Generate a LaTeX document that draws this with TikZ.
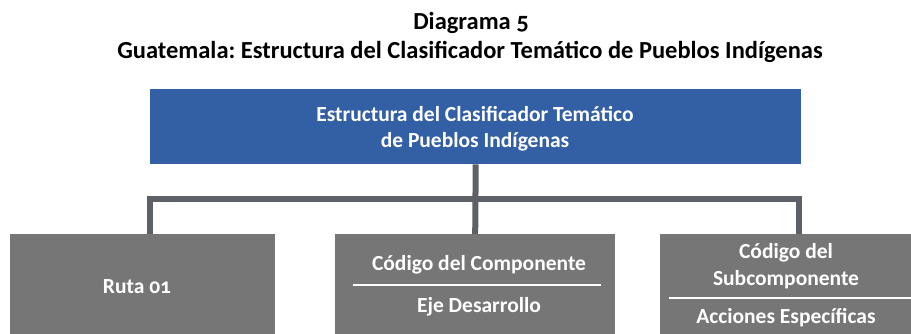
\documentclass[tikz,border=0pt]{standalone}
\usepackage{fontspec}
\setmainfont{Carlito}[Numbers=OldStyle]
\usetikzlibrary{calc}
\usetikzlibrary{positioning}
\frenchspacing
\definecolor{DarkBlue}{HTML}{335FA5}
\definecolor{BoxGray}{HTML}{767677}
\definecolor{LineGray}{HTML}{5D6066}
\tikzset{
  headbox/.style={fill=DarkBlue, anchor=north west, inner sep=0pt},
  itembox/.style={fill=BoxGray, anchor=north west, inner sep=0pt},
  boxtext/.style={text=white, font=\bfseries\fontsize{21.5}{26.5}\selectfont, align=center, inner sep=0pt},
  titletext/.style={font=\bfseries\fontsize{24.5}{29}\selectfont, inner sep=0pt},
  conn/.style={LineGray, line width=6pt},
  sepline/.style={white, line width=2pt}
}

\begin{document}
\begin{tikzpicture}[x=1pt, y=-1pt]
  \useasboundingbox (0,0) rectangle (911,334);

  % titulo
  \node[titletext] (tituno) at (471,23) {Diagrama 5};
  \node[titletext] (titdos) at (470,52) {Guatemala: Estructura del Clasificador Temático de Pueblos Indígenas};

  % cajas
  \node[headbox, minimum width=651pt, minimum height=75pt] (clasif) at (150,89) {};
  \node[itembox, minimum width=265pt, minimum height=100pt] (ruta) at (10,234) {};
  \node[itembox, minimum width=280pt, minimum height=100pt] (codcomp) at (335,234) {};
  \node[itembox, minimum width=251pt, minimum height=100pt] (codsub) at (660,234) {};

  % conectores
  \coordinate (barL) at (150,199);
  \coordinate (barR) at (799,199);
  \draw[conn] (clasif.south) -- (codcomp.north);
  \draw[conn] ($(barL)+(-3,0)$) -- ($(barR)+(3,0)$);
  \draw[conn] (barL) -- (barL |- ruta.north);
  \draw[conn] (barR) -- (barR |- codsub.north);

  % textos
  \node[boxtext] (clasiftxt) at (475,129) {Estructura del Clasificador Temático\\de Pueblos Indígenas};
  \node[boxtext] (rutatxt) at (137,287) {Ruta 01};
  \node[boxtext] (comptxt) at (479,265) {Código del Componente};
  \node[boxtext] (ejetxt) at (479,307) {Eje Desarrollo};
  \node[boxtext] (subtxt) at (786,266) {Código del\\Subcomponente};
  \node[boxtext] (acctxt) at (786,318) {Acciones Específicas};

  \draw[sepline] (353,285) -- (601,285);
  \draw[sepline] (669,298) -- (911,298);
\end{tikzpicture}
\end{document}
